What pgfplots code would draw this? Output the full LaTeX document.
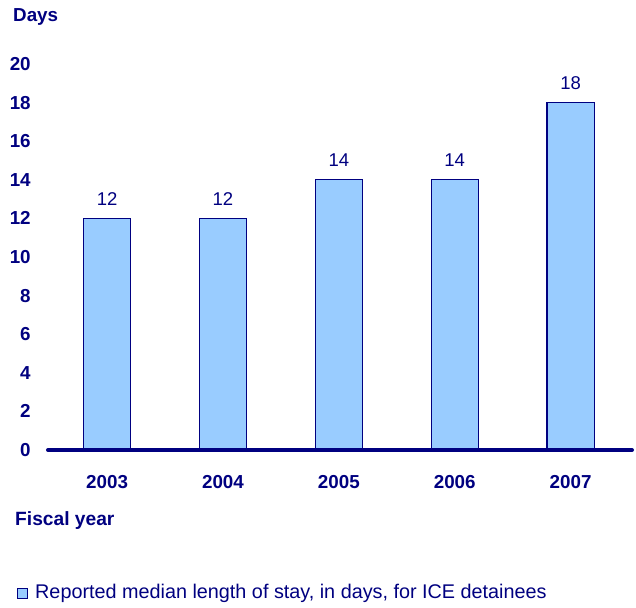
\documentclass[border=0pt]{standalone}
\usepackage{pgfplots}
\pgfplotsset{compat=1.18}
\usepackage{fontspec}
\setmainfont{Liberation Sans}
\definecolor{navy}{RGB}{0,0,128}
\definecolor{barblue}{RGB}{153,204,255}
\begin{document}
\begin{tikzpicture}
  \begin{axis}[
    at={(0,0)}, anchor=south west,
    scale only axis,
    width=584pt, height=386pt,
    xmin=-0.51, xmax=4.53,
    ymin=0, ymax=20,
    ytick distance=2,
    xtick=data,
    xticklabels={2003,2004,2005,2006,2007},
    axis x line=bottom,
    axis y line=left,
    y axis line style={draw=none},
    x axis line style={line width=4pt, navy, line cap=round, -},
    major tick style={draw=none},
    tick label style={font=\fontsize{18.8}{22}\selectfont\bfseries, text=navy},
    yticklabel style={inner sep=0pt, xshift=-15pt},
    xticklabel style={inner sep=0pt, yshift=-21pt},
    /pgf/number format/assume math mode=true,
    ybar, bar width=47pt,
    nodes near coords,
    every node near coord/.append style={font=\fontsize{18.5}{21}\selectfont, text=navy, yshift=9pt},
    axis on top,
    clip=false,
  ]
    \addplot[fill=barblue, draw=navy, line width=1.2pt] coordinates {
      (0,12) (1,12) (2,14) (3,14) (4,18)
    };
  \end{axis}
  \node[anchor=west, inner sep=0pt, text=navy, font=\fontsize{18.8}{22}\selectfont\bfseries] at (-35pt,433pt) {Days};
  \node[anchor=west, inner sep=0pt, text=navy, font=\fontsize{19.2}{22}\selectfont\bfseries] at (-33pt,-71pt) {Fiscal year};
  \node[anchor=west, inner sep=0pt, draw=navy, fill=barblue, line width=1pt, minimum size=10pt] (sq) at (-31pt,-143pt) {};
  \node[anchor=west, inner sep=0pt, text=navy, font=\fontsize{19.8}{23}\selectfont] at (-13pt,-143pt) {Reported median length of stay, in days, for ICE detainees};
  \path[use as bounding box] (-48pt,-157pt) rectangle (588pt,450pt);
\end{tikzpicture}
\end{document}
